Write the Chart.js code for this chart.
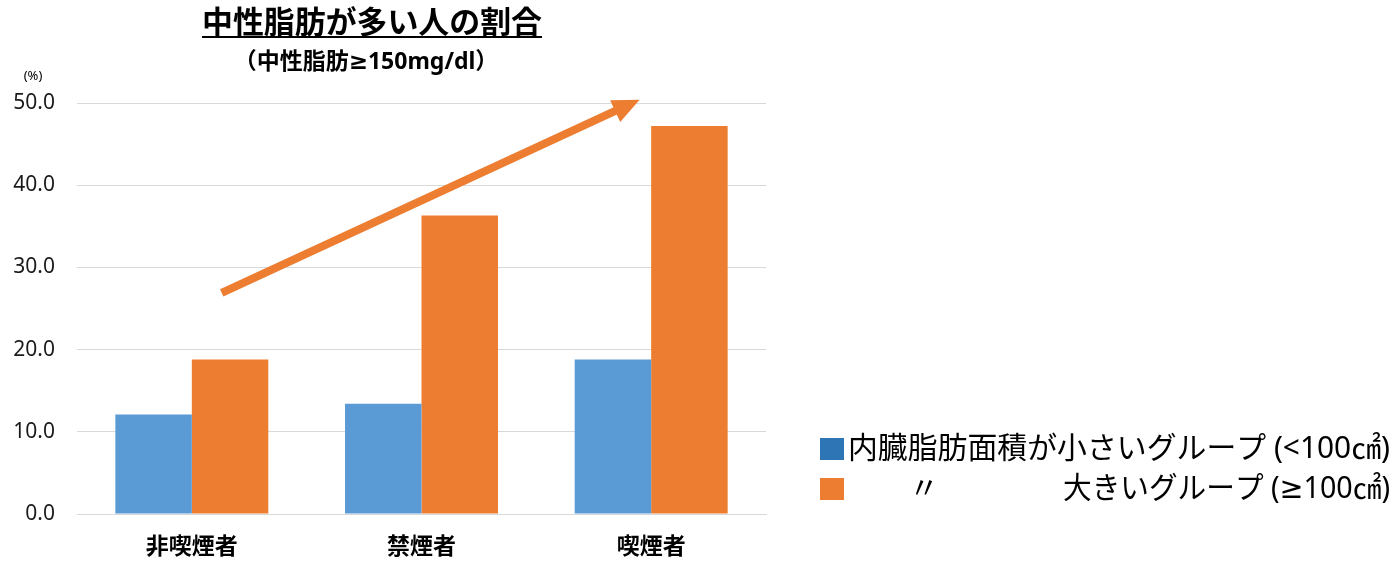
<!DOCTYPE html>
<html><head><meta charset="utf-8">
<script src="https://cdn.jsdelivr.net/npm/chart.js@4"></script>
<style>html,body{margin:0;padding:0;background:#fff;}#wrap{width:1400px;height:571px;position:relative;}</style>
</head><body><div id="wrap"><canvas id="c" width="1400" height="571"></canvas></div>
<script>
const categories = ['非喫煙者', '禁煙者', '喫煙者'];
const smallGroup = [12.1, 13.4, 18.8];
const largeGroup = [18.8, 36.3, 47.2];
const seriesLabels = ['内臓脂肪面積が小さいグループ (<100㎠)', '〃|大きいグループ (≥100㎠)'];
const titleText = '中性脂肪が多い人の割合';
const subtitleText = '（中性脂肪≥150mg/dl）';
const unitText = '(%)';
const yMin = 0, yMax = 50, yStep = 10;
// trend arrow in data space: [category index, value]
const arrowFrom = [0.13, 26.9];
const arrowTo = [1.95, 50.4];

const FONT = '"Noto Sans CJK JP", "Noto Sans", sans-serif';
const MIXFONT = '"Noto Sans", "DejaVu Sans", "Noto Sans CJK JP", sans-serif';

const decor = {
  id: 'decor',
  afterDraw(chart) {
    const ctx = chart.ctx, xs = chart.scales.x, ys = chart.scales.y;
    ctx.save();
    // title
    ctx.fillStyle = '#000';
    ctx.textAlign = 'center';
    ctx.textBaseline = 'alphabetic';
    ctx.font = 'bold 31px ' + FONT;
    ctx.fillText(titleText, 372, 33, 340);
    const tw = Math.min(ctx.measureText(titleText).width, 340);
    ctx.fillRect(372 - tw / 2, 36, tw, 2);
    ctx.font = 'bold 23px ' + MIXFONT;
    ctx.fillText(subtitleText, 366, 69, 270);
    ctx.font = '13px ' + MIXFONT;
    ctx.fillText(unitText, 33, 80);
    // arrow
    const x1 = xs.getPixelForValue(arrowFrom[0]), y1 = ys.getPixelForValue(arrowFrom[1]);
    const x2 = xs.getPixelForValue(arrowTo[0]), y2 = ys.getPixelForValue(arrowTo[1]);
    const ang = Math.atan2(y2 - y1, x2 - x1);
    const headLen = 27, headHalf = 12;
    const bx = x2 - headLen * Math.cos(ang), by = y2 - headLen * Math.sin(ang);
    ctx.strokeStyle = '#ED7D31';
    ctx.lineWidth = 8;
    ctx.lineCap = 'butt';
    ctx.beginPath(); ctx.moveTo(x1, y1); ctx.lineTo(bx + 2 * Math.cos(ang), by + 2 * Math.sin(ang)); ctx.stroke();
    ctx.fillStyle = '#ED7D31';
    ctx.beginPath();
    ctx.moveTo(x2, y2);
    ctx.lineTo(bx + headHalf * Math.sin(ang), by - headHalf * Math.cos(ang));
    ctx.lineTo(bx - headHalf * Math.sin(ang), by + headHalf * Math.cos(ang));
    ctx.closePath(); ctx.fill();
    // legend
    const legendColors = ['#2E75B6', '#ED7D31'];
    const rowsY = [449, 489];
    ctx.font = '30px ' + MIXFONT;
    ctx.textBaseline = 'middle';
    seriesLabels.forEach((lab, i) => {
      ctx.fillStyle = legendColors[i];
      ctx.fillRect(820, rowsY[i] - 11, 24, 22);
      ctx.fillStyle = '#000';
      const parts = lab.split('|');
      if (parts.length === 1) {
        ctx.textAlign = 'left';
        ctx.fillText(parts[0], 848, rowsY[i], 542);
      } else {
        ctx.textAlign = 'center';
        ctx.fillText(parts[0], 924, rowsY[i]);
        ctx.textAlign = 'right';
        ctx.fillText(parts[1], 1390, rowsY[i], 327);
      }
    });
    ctx.restore();
  }
};

new Chart(document.getElementById('c'), {
  type: 'bar',
  data: {
    labels: categories,
    datasets: [
      { label: seriesLabels[0], data: smallGroup, backgroundColor: '#5B9BD5', borderWidth: 0 },
      { label: seriesLabels[1].replace('|', '　'), data: largeGroup, backgroundColor: '#ED7D31', borderWidth: 0 }
    ]
  },
  options: {
    responsive: false,
    animation: false,
    devicePixelRatio: 1,
    layout: { padding: { left: 0, right: 634, top: 103, bottom: 0 } },
    datasets: { bar: { categoryPercentage: 0.666, barPercentage: 1.0 } },
    plugins: { legend: { display: false }, title: { display: false }, tooltip: { enabled: false } },
    scales: {
      x: {
        grid: { display: false, drawTicks: false },
        border: { display: true, color: '#d9d9d9', width: 1 },
        ticks: { color: '#000', font: { family: FONT, size: 23, weight: 'bold' }, padding: 17 },
        afterFit(s) { s.height = 57; }
      },
      y: {
        min: yMin, max: yMax,
        grid: { color: '#d9d9d9', lineWidth: 1, drawTicks: false },
        border: { display: false },
        ticks: { stepSize: yStep, color: '#1a1a1a', font: { family: MIXFONT, size: 21 }, padding: 22,
          callback: v => Number(v).toFixed(1) },
        afterFit(s) { s.width = 77; }
      }
    }
  },
  plugins: [decor]
});
</script></body></html>
